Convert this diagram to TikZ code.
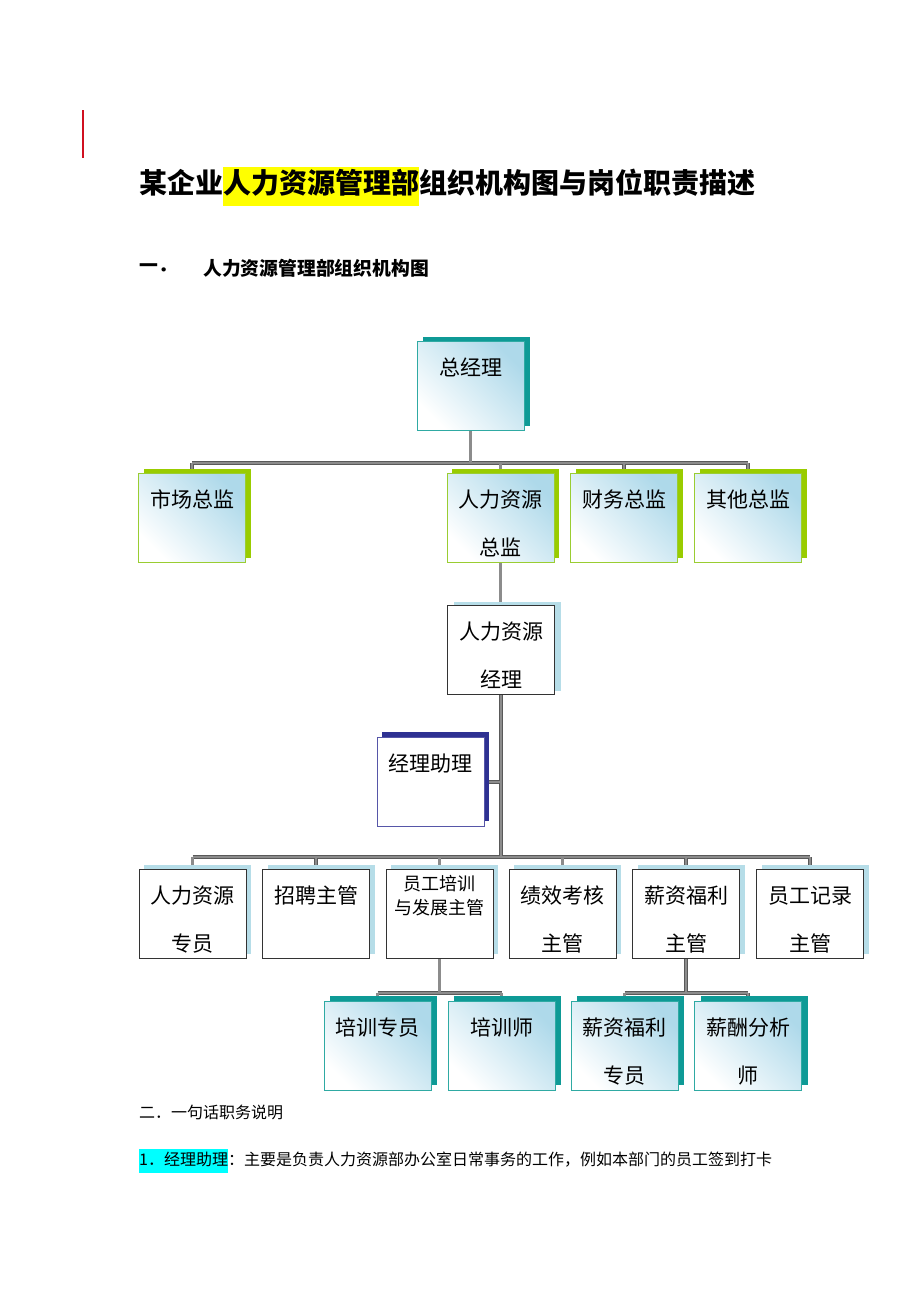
\documentclass[tikz,border=0pt]{standalone}
\usepackage{fontspec}
\setmainfont{Noto Sans CJK SC}
\usetikzlibrary{positioning,shadows,backgrounds}
\definecolor{tealbox}{HTML}{2FAAA3}
\definecolor{tealsh}{HTML}{0E9A96}
\definecolor{limebox}{HTML}{9ACD32}
\definecolor{limesh}{HTML}{99CC00}
\definecolor{skysh}{HTML}{B6DDE8}
\definecolor{gradblue}{HTML}{AED9EA}
\definecolor{navybox}{HTML}{5656A8}
\definecolor{navysh}{HTML}{2E3192}
\definecolor{hlyellow}{HTML}{FFFF00}
\definecolor{hlcyan}{HTML}{00FFFF}
\definecolor{marginred}{HTML}{D01020}
\setlength{\fboxsep}{0pt}
\newcommand{\boxtext}[2][34pt]{\parbox[c][89pt][t]{105pt}{\centering\rule{0pt}{#1}#2}}
\tikzset{
  % 方框
  ob/.style={rectangle,inner sep=0pt,minimum width=107pt,minimum height=89pt,
             line width=0.8pt,font=\fontsize{21}{48}\selectfont},
  grad/.style={top color=gradblue,bottom color=white,shading angle=-45},
  gmbox/.style={ob,grad,draw=tealbox,
    drop shadow={shadow xshift=6pt,shadow yshift=5pt,fill=tealsh,opacity=1}},
  dirbox/.style={ob,grad,draw=limebox,
    drop shadow={shadow xshift=5pt,shadow yshift=4pt,fill=limesh,opacity=1}},
  mgrbox/.style={ob,fill=white,draw=black!80,
    drop shadow={shadow xshift=6pt,shadow yshift=3pt,fill=skysh,opacity=1}},
  asbox/.style={ob,fill=white,draw=navybox,
    drop shadow={shadow xshift=5pt,shadow yshift=6pt,fill=navysh,opacity=1}},
  supbox/.style={ob,fill=white,draw=black!80,
    drop shadow={shadow xshift=5pt,shadow yshift=4pt,fill=skysh,opacity=1}},
  spbox/.style={ob,grad,draw=tealbox,
    drop shadow={shadow xshift=6pt,shadow yshift=5pt,fill=tealsh,opacity=1}},
  % 连线 (先画外层, 再画内层)
  connout/.style={draw=black!65,line width=3.8pt},
  connin/.style={draw=black!45,line width=2.2pt},
  % 文字
  txt/.style={anchor=west,inner sep=0pt},
}

\begin{document}
\begin{tikzpicture}[x=1pt,y=-1pt]
  \useasboundingbox (0,0) rectangle (920,1302);
  \draw[marginred,line width=1.2pt] (83,110) -- (83,158);
  \node[txt,font=\fontsize{28}{39}\selectfont\bfseries] (title) at (139,186)
    {某企业\colorbox{hlyellow}{\strut 人力资源管理部}组织机构图与岗位职责描述};
  \node[txt,font=\fontsize{18.8}{24}\selectfont\bfseries] (sec1no) at (139,268) {一．};
  \node[txt,font=\fontsize{18.8}{24}\selectfont\bfseries] (sec1) at (203,268) {人力资源管理部组织机构图};

  \node[gmbox] (gm) at (470.5,386) {\boxtext{总经理}};
  \node[dirbox] (mkt) at (192,517.5) {\boxtext{市场总监}};
  \node[dirbox] (hrd) at (500.5,517.5) {\boxtext{人力资源\\总监}};
  \node[dirbox] (fin) at (624,517.5) {\boxtext{财务总监}};
  \node[dirbox] (oth) at (748,517.5) {\boxtext{其他总监}};
  \node[mgrbox] (mgr) at (501,649.5) {\boxtext{人力资源\\经理}};
  \node[asbox] (ast) at (430.5,782) {\boxtext{经理助理}};

  \node[supbox] (hrs) at (192.5,913.5) {\boxtext{人力资源\\专员}};
  \node[supbox] (rec) at (316,913.5) {\boxtext{招聘主管}};
  \node[supbox,font=\fontsize{18}{24}\selectfont] (trn) at (439.5,913.5) {\boxtext[21pt]{员工培训\\与发展主管}};
  \node[supbox] (prf) at (562.5,913.5) {\boxtext{绩效考核\\主管}};
  \node[supbox] (pay) at (686,913.5) {\boxtext{薪资福利\\主管}};
  \node[supbox] (rcd) at (810,913.5) {\boxtext{员工记录\\主管}};

  \node[spbox] (tsp) at (377.5,1045.5) {\boxtext{培训专员}};
  \node[spbox] (tch) at (501.5,1045.5) {\boxtext{培训师}};
  \node[spbox] (psp) at (624.5,1045.5) {\boxtext{薪资福利\\专员}};
  \node[spbox] (ana) at (748,1045.5) {\boxtext{薪酬分析\\师}};

  \node[txt,font=\fontsize{16}{24}\selectfont] (sec2) at (139,1112) {二．一句话职务说明};
  \node[txt,font=\fontsize{16}{24}\selectfont] (duty1) at (139,1161)
    {\colorbox{hlcyan}{\strut 1．经理助理}：主要是负责人力资源部办公室日常事务的工作，例如本部门的员工签到打卡};

  \begin{scope}[on background layer]
  \coordinate (b1) at (470.5,463);
  \coordinate (b2) at (501,857);
  \coordinate (b3) at (501,993);
  \foreach \ly in {connout,connin} {
    \draw[\ly] (gm) -- (b1);
    \draw[\ly] (mkt.north |- b1) -- (oth.north |- b1);
    \foreach \n in {mkt,hrd,fin,oth} \draw[\ly] (\n.north) -- (\n.north |- b1);
    \draw[\ly] (hrd.south) -- (hrd.south |- mgr.north);
    \draw[\ly] (mgr.south) -- (mgr.south |- b2);
    \draw[\ly] (ast.east) -- (ast.east -| mgr.south);
    \draw[\ly] (hrs.north |- b2) -- (rcd.north |- b2);
    \foreach \n in {hrs,rec,trn,prf,pay,rcd} \draw[\ly] (\n.north) -- (\n.north |- b2);
    \draw[\ly] (trn.south) -- (trn.south |- b3);
    \draw[\ly] (tsp.north |- b3) -- (tch.north |- b3);
    \draw[\ly] (pay.south) -- (pay.south |- b3);
    \draw[\ly] (psp.north |- b3) -- (ana.north |- b3);
    \foreach \n in {tsp,tch,psp,ana} \draw[\ly] (\n.north) -- (\n.north |- b3);
  }
  \end{scope}
\end{tikzpicture}
\end{document}
